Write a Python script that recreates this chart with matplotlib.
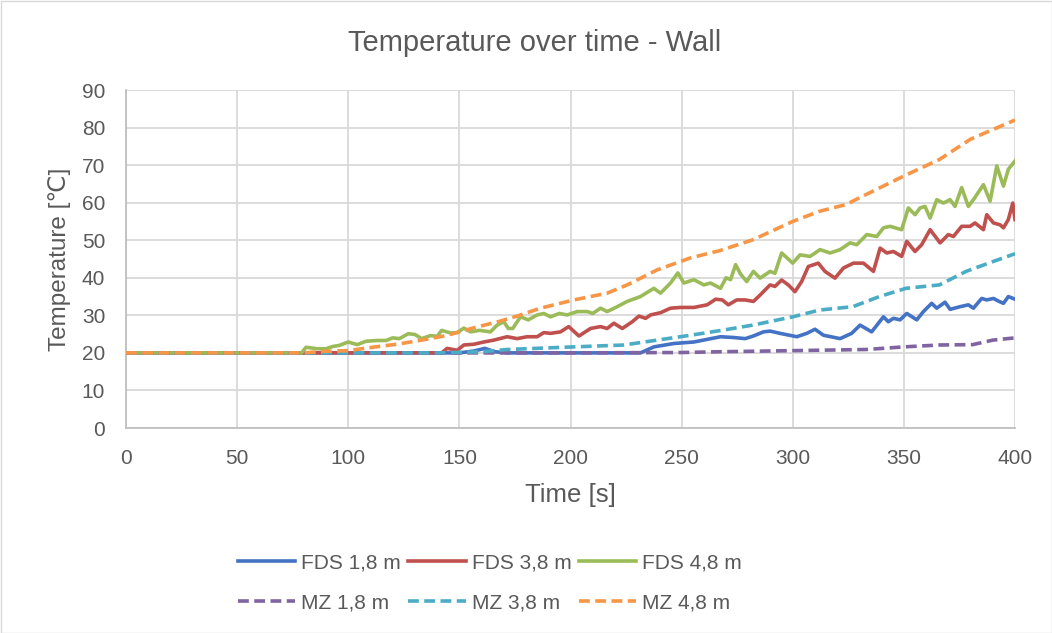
import matplotlib
matplotlib.use("Agg")
import matplotlib.pyplot as plt

# FDS 1,8 m (blue)
fds18_t = [0, 150, 156.5, 161.5, 166, 171.5, 231.5, 237.5, 246.5, 255.5, 261.5, 267.5, 273.3, 278.6, 282.3,
           286.8, 289.8, 294.3, 301.8, 306.3, 310, 313.8, 321.3, 326.5, 330.3, 335.5, 340.8, 343, 345.3, 348.3,
           351.3, 355.8, 358.8, 362.5, 364.8, 368.5, 370.8, 375.3, 379, 381.3, 385, 387.3, 390.3, 392.5, 394.8,
           397, 400]
fds18_v = [20, 20, 20.5, 21.2, 20.3, 20, 20, 21.6, 22.5, 22.9, 23.6, 24.3, 24.1, 23.8, 24.5,
           25.6, 25.8, 25.2, 24.3, 25.2, 26.3, 24.7, 23.8, 25.2, 27.4, 25.6, 29.6, 28.3, 29.2, 28.8,
           30.5, 28.8, 31, 33.2, 31.9, 33.5, 31.6, 32.3, 32.8, 31.9, 34.5, 34.1, 34.5, 33.8, 33.2,
           35, 34.3]

# FDS 3,8 m (red)
fds38_t = [0, 142, 144.5, 149, 152, 156.5, 161, 165.5, 171.5, 176, 180.5, 185, 188, 191, 195.5, 199.2, 203.8,
           209, 213.5, 216.5, 219.5, 223.3, 227.8, 230.8, 233.8, 236, 240.5, 245, 249.5, 255.5, 261.5, 265.3,
           268.3, 271, 274.8, 278.6, 282.3, 285.3, 289.8, 292, 295, 298, 301, 304, 307, 311.5, 314.5, 319,
           322.8, 327.3, 331.8, 336.3, 339.3, 342.3, 345.3, 349, 351.3, 355, 358, 361.8, 366.3, 370, 372.3,
           376, 379.8, 382, 385.8, 387.3, 390.3, 393.3, 394.8, 397, 399, 400]
fds38_v = [20, 20, 21.2, 20.7, 22.1, 22.3, 22.9, 23.4, 24.3, 23.8, 24.3, 24.3, 25.4, 25.2, 25.6, 27, 24.5,
           26.5, 27, 26.5, 27.9, 26.5, 28.3, 29.8, 29.2, 30.1, 30.7, 31.9, 32.1, 32.1, 32.8, 34.3,
           34.1, 32.8, 34.1, 34.1, 33.7, 35.4, 38.1, 37.7, 39.4, 38.1, 36.3, 39, 43, 43.9, 41.7, 39.9,
           42.6, 43.9, 43.9, 41.7, 47.9, 46.6, 47, 45.7, 49.7, 47, 48.8, 52.8, 49.3, 51.5, 51,
           53.7, 53.7, 54.6, 52.8, 56.8, 54.6, 54.1, 53.3, 55.5, 59.9, 55.5]

# FDS 4,8 m (green)
fds48_t = [0, 79, 81, 86, 90, 93, 96, 100, 104, 108, 113, 117, 120, 123, 127, 130, 133, 137, 140, 142, 146,
           149, 152, 155, 159, 164, 167, 170, 172, 174, 177.5, 181, 185, 188, 191, 195, 198.5, 203, 207.5,
           210, 213.5, 216.5, 221, 225.5, 231.5, 237.5, 240.5, 245, 248.3, 251, 255.5, 260, 263, 267.5,
           270, 272, 274.3, 276.5, 279.3, 282.3, 285.3, 289.8, 292, 295, 300, 303.3, 307.8, 312.3, 316.8,
           321.3, 325.8, 328.8, 333.3, 337.8, 340.8, 343.8, 349, 352, 355, 357.3, 359.5, 361.8, 364.8,
           367.8, 370.8, 373, 376, 379, 381.3, 385.8, 388.8, 391.8, 394.8, 397, 400]
fds48_v = [20, 20, 21.5, 21.1, 21.1, 21.7, 22, 22.9, 22.2, 23.1, 23.3, 23.3, 24, 23.8, 25.1, 24.9, 23.8,
           24.6, 24.4, 26, 25.3, 25.4, 26.6, 25.6, 26, 25.6, 27.4, 28.3, 26.5, 26.5, 29.6, 28.8, 30.1,
           30.5, 29.6, 30.5, 30.1, 31, 31, 30.5, 31.9, 31, 32.3, 33.7, 35, 37.2, 35.9, 38.6, 41.3, 38.6,
           39.5, 38.1, 38.6, 37.2, 40, 39.5, 43.5, 41, 39, 41.7, 39.9, 41.7, 41.2, 46.6, 43.9, 46.1,
           45.7, 47.5, 46.6, 47.5, 49.3, 48.8, 51.5, 51, 53.3, 53.7, 52.8, 58.6, 56.8, 58.6, 59, 55.9,
           60.8, 59.9, 60.8, 59, 64, 59, 60.8, 64.8, 60.4, 69.8, 64.4, 68.9, 71.1]

# MZ series (smooth)
mz18_t = [0, 100, 200, 250, 267, 300, 333, 350, 366, 381, 390, 400]
mz18_v = [20, 20, 20, 20.1, 20.3, 20.6, 20.9, 21.6, 22.1, 22.2, 23.4, 24]

mz38_t = [0, 140, 160, 171.5, 201.5, 224, 239, 254, 269, 282, 300, 312, 327, 339, 351, 366, 378, 390, 400]
mz38_v = [20, 20, 20.3, 20.9, 21.6, 22.1, 23.4, 24.7, 26.1, 27.4, 29.6, 31.4, 32.3, 35, 37.2, 38.1, 41.7,
          44.3, 46.4]

mz48_t = [0, 80, 88.7, 100, 111, 123, 134, 144, 156, 168, 176, 186.5, 201.5, 216.5, 225.5, 239, 254, 267,
          282, 300, 312, 324, 330, 350, 366, 380, 387, 400]
mz48_v = [20, 20, 20.4, 20.6, 21.5, 22.4, 23.5, 24.6, 26.6, 28.4, 29.8, 31.9, 34.1, 35.9, 38.1, 42.1, 45.3,
          47.2, 50.1, 55, 57.7, 59.5, 61.3, 67.1, 71.5, 76.9, 78.7, 82]

labels = ["FDS 1,8 m", "FDS 3,8 m", "FDS 4,8 m", "MZ 1,8 m", "MZ 3,8 m", "MZ 4,8 m"]
colors = ["#4472c4", "#c0504d", "#9bbb59", "#8064a2", "#4bacc6", "#f79646"]
x_ticks = [0, 50, 100, 150, 200, 250, 300, 350, 400]
y_ticks = [0, 10, 20, 30, 40, 50, 60, 70, 80, 90]

plt.rcParams['font.family'] = ['Liberation Sans', 'DejaVu Sans']
txt = "#595959"

fig = plt.figure(figsize=(10.52, 6.33), dpi=100)
ax = fig.add_axes([126/1052, 1-428/633, (1015-126)/1052, (428-90)/633])

lw = 2.6
dash = (0, (3.0, 1.5))
h1, = ax.plot(fds18_t, fds18_v, color=colors[0], lw=lw, label=labels[0], zorder=3)
h2, = ax.plot(fds38_t, fds38_v, color=colors[1], lw=lw, label=labels[1], zorder=3)
h3, = ax.plot(fds48_t, fds48_v, color=colors[2], lw=lw, label=labels[2], zorder=3)
h4, = ax.plot(mz18_t, mz18_v, color=colors[3], lw=lw, ls=dash, label=labels[3], zorder=3)
h5, = ax.plot(mz38_t, mz38_v, color=colors[4], lw=lw, ls=dash, label=labels[4], zorder=3)
h6, = ax.plot(mz48_t, mz48_v, color=colors[5], lw=lw, ls=dash, label=labels[5], zorder=3)

ax.set_xlim(0, 400)
ax.set_ylim(0, 90)
ax.set_xticks(x_ticks)
ax.set_yticks(y_ticks)
ax.grid(True, color="#d9d9d9", lw=1.3)
ax.set_axisbelow(True)
for s in ["top", "right"]:
    ax.spines[s].set_visible(False)
ax.spines["left"].set_color("#bfbfbf")
ax.spines["bottom"].set_color("#bfbfbf")
ax.spines["left"].set_linewidth(1.3)
ax.spines["bottom"].set_linewidth(1.3)
ax.tick_params(length=0, labelsize=15, labelcolor=txt)
ax.tick_params(axis="y", pad=15)
ax.tick_params(axis="x", pad=15)

ax.set_xlabel("Time [s]", fontsize=18.5, color=txt, labelpad=11)
ax.set_ylabel("Temperature [℃]", fontsize=17.5, color=txt, labelpad=8)
fig.text(535/1052, 1-43/633, "Temperature over time - Wall", fontsize=21, color=txt, ha="center", va="center")

# row-wise legend order: matplotlib fills column by column
handles = [h1, h4, h2, h5, h3, h6]
leg = fig.legend(handles=handles, labels=[h.get_label() for h in handles], ncol=3, loc="center",
                 bbox_to_anchor=(490/1052, 1-583/633), frameon=False,
                 fontsize=15, handlelength=2.75, handletextpad=0.3, columnspacing=0.35, labelspacing=1.0,
                 labelcolor=txt, borderpad=0)

fig.patches.append(plt.Rectangle((0.5/1052, 0.5/633), 1-1/1052, 1-1/633, transform=fig.transFigure,
                                 fill=False, edgecolor="#d9d9d9", lw=1))
fig.savefig("out.png", dpi=100)
